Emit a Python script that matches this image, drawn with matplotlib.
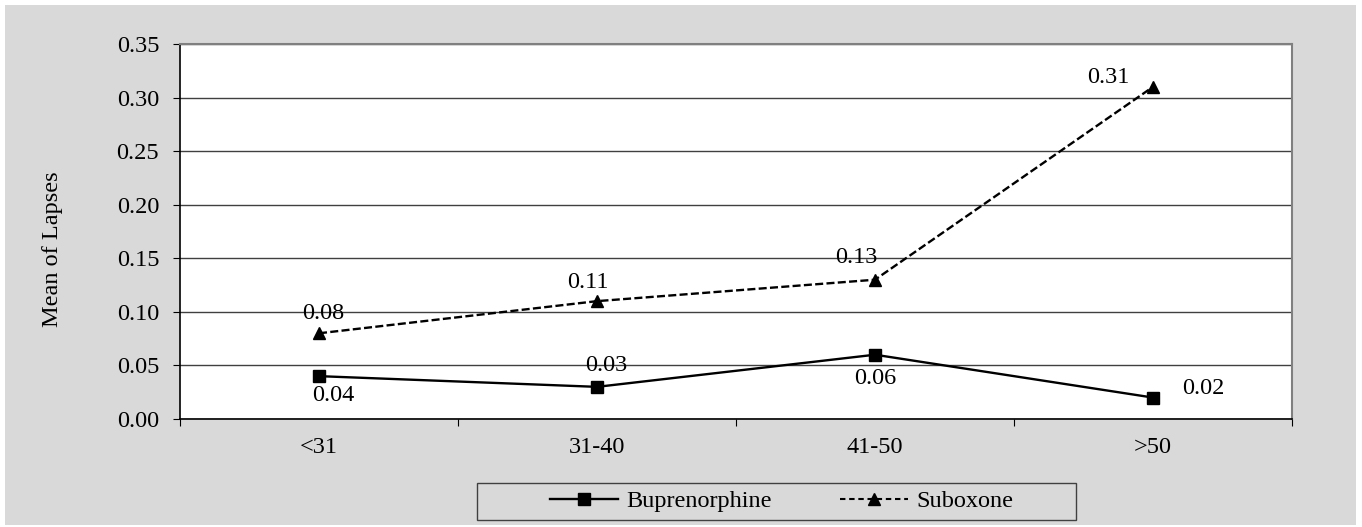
import matplotlib
matplotlib.use("Agg")
import matplotlib.pyplot as plt
from matplotlib.patches import Rectangle
from matplotlib.lines import Line2D

categories = ["<31", "31-40", "41-50", ">50"]
bup = [0.04, 0.03, 0.06, 0.02]
sub = [0.08, 0.11, 0.13, 0.31]
yticks = [0.00, 0.05, 0.10, 0.15, 0.20, 0.25, 0.30, 0.35]

plt.rcParams['font.family'] = ['Liberation Serif', 'DejaVu Serif']
FS = 17.5
W, H = 1362, 527
fig = plt.figure(figsize=(W/100, H/100), dpi=100)
fig.patch.set_facecolor('white')
fig.patches.append(Rectangle((5/W, 2/H), 1351/W, 520/H, transform=fig.transFigure,
                             facecolor='#d9d9d9', edgecolor='none', zorder=-10))

ax = fig.add_axes([180/W, (H-419)/H, 1112/W, 375/H])
ax.set_zorder(2)
ax.set_facecolor('white')
x = list(range(len(categories)))
DASH = (0, (3.4, 1.4))
ax.plot(x, bup, color='black', lw=1.7, marker='s', ms=8.6, zorder=3)
ax.plot(x, sub, color='black', lw=1.7, ls=DASH, marker='^', ms=8.6, zorder=3)

ax.set_xlim(-0.5, 3.5)
ax.set_ylim(0, 0.35)
ax.set_yticks(yticks)
ax.set_yticklabels([f"{v:.2f}" for v in yticks], fontsize=FS)
ax.yaxis.grid(True, color='#404040', lw=1)
ax.set_axisbelow(True)
ax.set_xticks([-0.5, 0.5, 1.5, 2.5, 3.5])
ax.set_xticklabels([])
ax.set_xticks(x, minor=True)
ax.set_xticklabels(categories, minor=True, fontsize=FS)
ax.tick_params(axis='x', which='minor', length=0, pad=13)
ax.tick_params(axis='x', which='major', length=5, direction='out', color='black')
ax.tick_params(axis='y', length=5, direction='out', color='black', pad=10)
for s in ['top', 'right']:
    ax.spines[s].set_color('#808080')
    ax.spines[s].set_linewidth(1.5)
ax.spines['left'].set_color('black')
ax.spines['bottom'].set_color('black')
ax.spines['left'].set_linewidth(1.2)
ax.spines['bottom'].set_linewidth(1.2)

fig.text(53/W, (H-249)/H, "Mean of Lapses", rotation=90, ha='center', va='center',
         fontsize=FS)

# data labels (offsets in pixels)
sub_off = [(4, 20), (-9, 19), (-19, 22), (-45, 9)]
for i, v in enumerate(sub):
    dx, dy = sub_off[i]
    ax.annotate(f"{v:.2f}", (i, v), xytext=(dx, dy), textcoords='offset pixels',
                ha='center', va='center', fontsize=FS)
bup_off = [(14, -19), (9, 21), (0, -24), (50, 9)]
for i, v in enumerate(bup):
    dx, dy = bup_off[i]
    ax.annotate(f"{v:.2f}", (i, v), xytext=(dx, dy), textcoords='offset pixels',
                ha='center', va='center', fontsize=FS)

# legend
fig.patches.append(Rectangle((477/W, (H-520)/H), 599/W, 37/H, transform=fig.transFigure,
                             facecolor='#d9d9d9', edgecolor='#404040', lw=1, zorder=-5))
handles = [Line2D([], [], color='black', lw=1.7, marker='s', ms=8),
           Line2D([], [], color='black', lw=1.5, ls=(0, (2.6, 1.8)), marker='^', ms=8)]
leg = fig.legend(handles, ["Buprenorphine", "Suboxone"], ncol=2, loc='center',
                 bbox_to_anchor=(782/W, (H-501)/H), fontsize=FS, frameon=False,
                 handlelength=2.8, handletextpad=0.35, columnspacing=2.8, borderpad=0.2)

fig.savefig("out.png", dpi=100)
